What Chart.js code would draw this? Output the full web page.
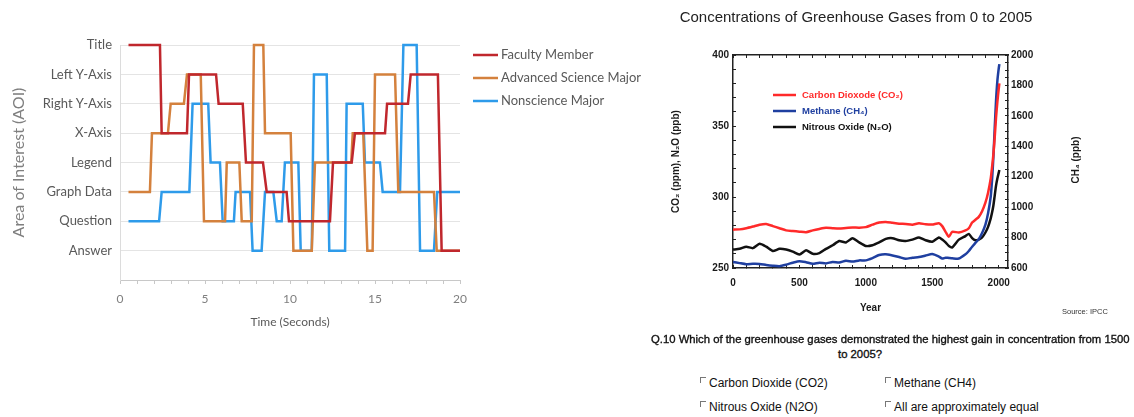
<!DOCTYPE html>
<html>
<head>
<meta charset="utf-8">
<script src="https://cdn.jsdelivr.net/npm/chart.js@4.4.1/dist/chart.umd.min.js"></script>
<style>
  html, body { margin: 0; padding: 0; background: #fff; }
  body { width: 1134px; height: 417px; position: relative; overflow: hidden; font-family: "Liberation Sans", Arial, sans-serif; color: #1a1a1a; }
  canvas { position: absolute; }
  #aoiChart { left: 0; top: 0; }
  #gasChart { left: 650px; top: 30px; }
  .txt { position: absolute; white-space: nowrap; }
  .gasTitle { left: 656px; top: 8px; width: 400px; text-align: center; font-size: 15px; line-height: 18px; color: #222; }
  .ch4Title { left: 1075px; top: 160px; transform: translate(-50%, -50%) rotate(-90deg); font-size: 10px; font-weight: bold; }
  .source { left: 1062px; top: 307px; font-size: 7.5px; color: #333; }
  .question { left: 651px; top: 333px; font-size: 11.3px; color: #111; -webkit-text-stroke: 0.35px #111; }
  .question2 { left: 760px; top: 348px; width: 200px; text-align: center; font-size: 11.3px; color: #111; -webkit-text-stroke: 0.35px #111; }
  .opt { font-size: 12px; line-height: 14px; color: #111; }
  .box { display: inline-block; width: 5px; height: 5px; border-top: 1px solid #777; border-left: 1px solid #777; margin-right: 3px; vertical-align: 4px; }
</style>
</head>
<body>
<canvas id="aoiChart" width="660" height="345"></canvas>
<canvas id="gasChart" width="484" height="300"></canvas>

<div class="txt gasTitle">Concentrations of Greenhouse Gases from 0 to 2005</div>
<div class="txt ch4Title">CH₄ (ppb)</div>
<div class="txt source">Source: IPCC</div>
<div class="txt question">Q.10 Which of the greenhouse gases demonstrated the highest gain in concentration from 1500</div>
<div class="txt question2">to 2005?</div>
<div class="txt opt" style="left:700px; top:376px;"><span class="box"></span>Carbon Dioxide (CO2)</div>
<div class="txt opt" style="left:885px; top:376px;"><span class="box"></span>Methane (CH4)</div>
<div class="txt opt" style="left:700px; top:400px;"><span class="box"></span>Nitrous Oxide (N2O)</div>
<div class="txt opt" style="left:885px; top:400px;"><span class="box"></span>All are approximately equal</div>

<script>
// Areas of interest, bottom to top
const aoiLevels = ['Answer', 'Question', 'Graph Data', 'Legend', 'X-Axis', 'Right Y-Axis', 'Left Y-Axis', 'Title'];
const timeTicks = [0, 5, 10, 15, 20];

// gaze path of each participant: time (s) and the AOI looked at
const facultyTime = [0.5, 2.35, 2.45, 3.94, 4.06, 5.65, 5.8, 7.22, 7.41, 8.41, 8.63, 9.8, 9.94, 12.35, 12.53, 13.63, 13.82, 15.59, 15.71, 16.94, 17.1, 18.7, 18.92, 20];
const facultyAOI = ['Title', 'Title', 'X-Axis', 'X-Axis', 'Left Y-Axis', 'Left Y-Axis', 'Right Y-Axis', 'Right Y-Axis', 'Legend', 'Legend', 'Graph Data', 'Graph Data', 'Question', 'Question', 'Legend', 'Legend', 'X-Axis', 'X-Axis', 'Right Y-Axis', 'Right Y-Axis', 'Left Y-Axis', 'Left Y-Axis', 'Answer', 'Answer'];

const advancedTime = [0.5, 1.76, 1.88, 2.82, 2.98, 3.76, 3.94, 4.75, 4.94, 6.18, 6.28, 7.02, 7.16, 7.75, 7.88, 8.43, 8.53, 10.04, 10.2, 11.28, 11.47, 13.6, 13.69, 14.31, 14.55, 14.86, 15.0, 16.18, 16.37, 18.47, 18.63, 20];
const advancedAOI = ['Graph Data', 'Graph Data', 'X-Axis', 'X-Axis', 'Right Y-Axis', 'Right Y-Axis', 'Left Y-Axis', 'Left Y-Axis', 'Question', 'Question', 'Legend', 'Legend', 'Question', 'Question', 'Title', 'Title', 'X-Axis', 'X-Axis', 'Answer', 'Answer', 'Legend', 'Legend', 'X-Axis', 'X-Axis', 'Answer', 'Answer', 'Left Y-Axis', 'Left Y-Axis', 'Graph Data', 'Graph Data', 'Answer', 'Answer'];

const nonscienceTime = [0.5, 2.3, 2.45, 4.08, 4.27, 5.19, 5.33, 5.88, 6.04, 6.7, 6.8, 7.65, 7.8, 8.33, 8.53, 9.02, 9.22, 9.51, 9.7, 10.49, 10.63, 11.28, 11.41, 12.16, 12.31, 13.24, 13.33, 14.28, 14.41, 15.29, 15.45, 16.47, 16.67, 17.45, 17.65, 18.47, 18.66, 20];
const nonscienceAOI = ['Question', 'Question', 'Graph Data', 'Graph Data', 'Right Y-Axis', 'Right Y-Axis', 'Legend', 'Legend', 'Question', 'Question', 'Graph Data', 'Graph Data', 'Answer', 'Answer', 'Graph Data', 'Graph Data', 'Question', 'Question', 'Legend', 'Legend', 'Answer', 'Answer', 'Left Y-Axis', 'Left Y-Axis', 'Answer', 'Answer', 'Right Y-Axis', 'Right Y-Axis', 'Legend', 'Legend', 'Graph Data', 'Graph Data', 'Title', 'Title', 'Answer', 'Answer', 'Graph Data', 'Graph Data'];

// greenhouse gas concentrations
const gasYears = [0, 50, 100, 150, 200, 250, 300, 350, 400, 450, 500, 550, 600, 650, 700, 750, 800, 850, 900, 950, 1000, 1050, 1100, 1150, 1200, 1250, 1300, 1350, 1400, 1450, 1500, 1550, 1575, 1600, 1625, 1650, 1700, 1750, 1775, 1800, 1825, 1850, 1875, 1900, 1920, 1940, 1950, 1960, 1970, 1980, 1990, 2000, 2005];
const co2 = [277, 277.2, 278, 279.2, 280.5, 281, 279.5, 278, 276.5, 276,
  275.6, 275.2, 276.5, 277.5, 278.3, 278, 277.8, 278.2, 278.5, 278.4,
  278.8, 280.5, 282, 282.4, 281.8, 281.2, 281, 280.5, 281.5, 280.8,
  280.6, 281.5, 279.5, 275.5, 272, 275.5, 275, 276.5, 278, 282,
  284, 286, 290, 296, 303, 313, 321, 330, 342, 356,
  367, 376, 380];
const n2o = [263, 263.5, 265, 264, 267, 265, 262, 263.5, 263, 261.5,
  259.5, 262.5, 260, 260.5, 263.5, 266, 269, 268, 271, 268,
  265.5, 266, 268, 270.5, 271, 269.5, 269, 270, 271.5, 269.5,
  268.5, 271.5, 270, 268, 265.5, 264.5, 270, 272.5, 274, 271,
  269.5, 270, 271.5, 275, 279, 285, 289, 294, 301, 308,
  313, 317, 319];
const ch4 = [640, 632, 625, 628, 627, 620, 615, 612, 622, 635,
  645, 638, 628, 635, 630, 640, 636, 648, 642, 650,
  650, 665, 685, 690, 682, 672, 660, 668, 672, 682,
  692, 675, 662, 668, 666, 664, 662, 690, 712, 740,
  765, 790, 830, 885, 960, 1070, 1180, 1330, 1520, 1700,
  1830, 1910, 1940];
const yearTicks = [0, 500, 1000, 1500, 2000];
const ppmTicks = [250, 300, 350, 400];
const ch4Ticks = [600, 800, 1000, 1200, 1400, 1600, 1800, 2000];

function gazePoints(times, aois) {
  return times.map((t, i) => ({ x: t, y: aoiLevels.indexOf(aois[i]) + 1 }));
}
function gasPoints(values) {
  return gasYears.map((yr, i) => ({ x: yr, y: values[i] }));
}

// simple legend drawn at a fixed spot next to / inside the plot
const lineLegend = {
  id: 'lineLegend',
  afterDraw(chart, args, opts) {
    const { ctx, chartArea } = chart;
    const x = (opts.anchor === 'right' ? chartArea.right : chartArea.left) + opts.left;
    ctx.save();
    ctx.font = opts.font;
    ctx.textBaseline = 'middle';
    chart.data.datasets.forEach((ds, i) => {
      const y = chartArea.top + opts.top + i * opts.rowHeight;
      ctx.strokeStyle = ds.borderColor;
      ctx.lineWidth = opts.lineWidth;
      ctx.beginPath();
      ctx.moveTo(x, y);
      ctx.lineTo(x + opts.lineLength, y);
      ctx.stroke();
      ctx.fillStyle = opts.textColor || ds.borderColor;
      ctx.fillText(ds.label, x + opts.lineLength + opts.gap, y);
    });
    ctx.restore();
  }
};

function initAoiChart() {
  const lato = 'Lato, "Open Sans", sans-serif';
  new Chart(document.getElementById('aoiChart'), {
    type: 'line',
    data: {
      datasets: [
        { label: 'Faculty Member', data: gazePoints(facultyTime, facultyAOI), borderColor: '#C0272D' },
        { label: 'Advanced Science Major', data: gazePoints(advancedTime, advancedAOI), borderColor: '#D4813D' },
        { label: 'Nonscience Major', data: gazePoints(nonscienceTime, nonscienceAOI), borderColor: '#2E9BEA' }
      ]
    },
    plugins: [lineLegend],
    options: {
      responsive: false,
      animation: false,
      layout: { padding: { top: 45, right: 200, left: 0, bottom: 0 } },
      datasets: { line: { clip: false } },
      elements: { point: { radius: 0 }, line: { borderWidth: 2.5, tension: 0 } },
      plugins: {
        legend: { display: false },
        tooltip: { enabled: false },
        lineLegend: { anchor: 'right', left: 13, top: 10, rowHeight: 23, lineLength: 25, gap: 3, lineWidth: 2.5, font: '13px ' + lato, textColor: '#595959' }
      },
      scales: {
        x: {
          type: 'linear', min: 0, max: 20,
          afterFit: s => { s.height = 65; },
          ticks: {
            stepSize: 1, autoSkip: false, maxRotation: 0, padding: 8, color: '#7f7f7f',
            font: { family: lato, size: 12 },
            callback: v => timeTicks.includes(v) ? String(v) : ''
          },
          grid: { drawOnChartArea: false, tickLength: 4, color: '#c8c8c8' },
          border: { color: '#c8c8c8' },
          title: { display: true, text: 'Time (Seconds)', color: '#595959', font: { family: lato, size: 12 }, padding: { top: 0, bottom: 16 } }
        },
        y: {
          type: 'linear', min: 0, max: 8,
          afterFit: s => { s.width = 120; },
          ticks: {
            stepSize: 1, autoSkip: false, padding: 8, color: '#595959',
            font: { family: lato, size: 13 },
            callback: v => aoiLevels[v - 1] || ''
          },
          grid: { drawTicks: false, color: c => c.tick && c.tick.value === 0 ? 'rgba(0,0,0,0)' : '#e4e4e4' },
          border: { color: '#dcdcdc' },
          title: { display: true, text: 'Area of Interest (AOI)', color: '#7f7f7f', font: { family: lato, size: 16 }, padding: { top: 9, bottom: 0 } }
        }
      }
    }
  });
}

function initGasChart() {
  const arial = '"Liberation Sans", Arial, sans-serif';
  const tickFont = { family: arial, size: 10, weight: 'bold' };
  const frame = { color: '#222', width: 1.5 };
  const inTicks = { drawOnChartArea: false, tickLength: -3, color: '#222' };
  new Chart(document.getElementById('gasChart'), {
    type: 'line',
    data: {
      datasets: [
        { label: 'Carbon Dioxode (CO₂)', data: gasPoints(co2), borderColor: '#FF2A2A', yAxisID: 'y' },
        { label: 'Methane (CH₄)', data: gasPoints(ch4), borderColor: '#1F3FA0', yAxisID: 'yR' },
        { label: 'Nitrous Oxide (N₂O)', data: gasPoints(n2o), borderColor: '#111111', yAxisID: 'y' }
      ]
    },
    plugins: [lineLegend],
    options: {
      responsive: false,
      animation: false,
      layout: { padding: { top: 25, right: 0, left: 0, bottom: 0 } },
      elements: { point: { radius: 0 }, line: { borderWidth: 2.5, tension: 0.2 } },
      plugins: {
        legend: { display: false },
        tooltip: { enabled: false },
        lineLegend: { anchor: 'left', left: 40, top: 40, rowHeight: 16, lineLength: 23, gap: 6, lineWidth: 2.5, font: 'bold 9.5px ' + arial }
      },
      scales: {
        x: {
          type: 'linear', position: 'bottom', min: 0, max: 2070,
          afterFit: s => { s.height = 62; },
          ticks: { stepSize: 100, includeBounds: false, autoSkip: false, maxRotation: 0, padding: 12, color: '#1a1a1a', font: tickFont,
            callback: v => yearTicks.includes(v) ? String(v) : '' },
          grid: inTicks,
          border: frame,
          title: { display: true, text: 'Year', color: '#1a1a1a', font: { family: arial, size: 10, weight: 'bold' }, padding: { top: 0, bottom: 16 } }
        },
        xTop: {
          type: 'linear', position: 'top', min: 0, max: 2070,
          afterFit: s => { s.height = 0; },
          ticks: { stepSize: 100, includeBounds: false, display: false },
          grid: inTicks,
          border: frame
        },
        y: {
          type: 'linear', position: 'left', min: 250, max: 400,
          afterFit: s => { s.width = 83; },
          ticks: { stepSize: 10, autoSkip: false, padding: 7, color: '#1a1a1a', font: tickFont,
            callback: v => ppmTicks.includes(v) ? String(v) : '' },
          grid: inTicks,
          border: frame,
          title: { display: true, text: 'CO₂ (ppm), N₂O (ppb)', color: '#1a1a1a', font: { family: arial, size: 10, weight: 'bold' }, padding: { top: 20, bottom: 0 } }
        },
        yR: {
          type: 'linear', position: 'right', min: 600, max: 2000,
          afterFit: s => { s.width = 126; },
          ticks: { stepSize: 50, autoSkip: false, padding: 6, color: '#1a1a1a', font: tickFont,
            callback: v => ch4Ticks.includes(v) ? String(v) : '' },
          grid: inTicks,
          border: frame
        }
      }
    }
  });
}

document.addEventListener('DOMContentLoaded', function() {
  initAoiChart();
  initGasChart();
});
</script>
</body>
</html>
